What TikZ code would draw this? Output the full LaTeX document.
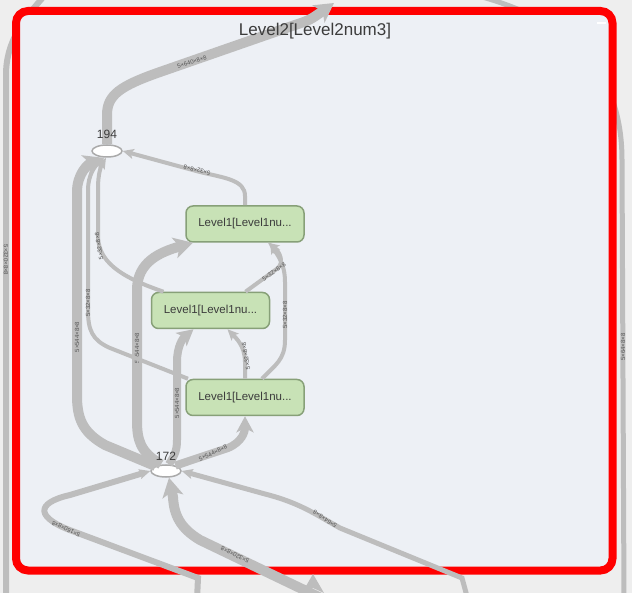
\documentclass[tikz,border=0pt]{standalone}
\usepackage{fontspec}
\setmainfont{Liberation Sans}
\usetikzlibrary{arrows.meta,shapes.geometric,calc}
\definecolor{bgout}{RGB}{238,238,238}
\definecolor{boxfill}{RGB}{237,240,245}
\definecolor{boxred}{RGB}{255,0,0}
\definecolor{edgec}{RGB}{189,189,189}
\definecolor{labc}{RGB}{85,85,85}
\definecolor{nodefill}{RGB}{200,226,182}
\definecolor{nodeline}{RGB}{135,160,120}
\definecolor{txt}{RGB}{60,60,60}
\definecolor{ellline}{RGB}{170,170,170}
\begin{document}
\begin{tikzpicture}[x=1pt,y=-1pt,
  conn/.style={draw=edgec, line width=#1},
  conn/.default=4pt,
  thinar/.style={-{Stealth[length=11pt,width=10pt,inset=2.5pt]}},
  midar/.style={-{Stealth[length=16pt,width=17pt,inset=4pt]}},
  bigar/.style={-{Stealth[length=19pt,width=21pt,inset=5pt]}},
  lab/.style={font=\fontsize{6}{7}\selectfont, text=labc, inner sep=0pt},
  lvl/.style={draw=nodeline, line width=1.5pt, fill=nodefill, rounded corners=7pt,
    minimum width=118pt, minimum height=36pt, inner sep=0pt, text=txt,
    font=\fontsize{11.5}{13}\selectfont},
  ell/.style={ellipse, draw=ellline, line width=1.5pt, fill=white,
    minimum width=30pt, minimum height=12pt, inner sep=0pt},
  num/.style={text=txt, font=\fontsize{12}{14}\selectfont, inner sep=0pt}
]
\useasboundingbox (0,0) rectangle (632,593);
\clip (0,0) rectangle (632,593);
\fill[bgout] (0,0) rectangle (632,593);

% outer lines behind the group box
\draw[conn=6pt] (6,600) -- (6,75) .. controls (6,40) and (25,18) .. (45,-5);
\draw[conn=5pt] (475,-5) .. controls (570,20) and (622,70) .. (622,160) -- (624,600);
\node[lab, rotate=-90] (l15) at (6,260) {5×320×8×8};
\node[lab, rotate=90] (l16) at (623,347) {5×64×8×8};

% group box
\draw[boxred, line width=8pt, fill=boxfill, rounded corners=12pt] (16,11) rectangle (612.5,570.5);
\draw[white, line width=2pt] (597,23) -- (606,23);

% nodes
\node[lvl] (A) at (245,224) {Level1[Level1nu...};
\node[lvl] (B) at (210.5,310.5) {Level1[Level1nu...};
\node[lvl] (C) at (245,397.5) {Level1[Level1nu...};
\node[ell] (n194) at (107,151) {};
\node[ell] (n172) at (166,471) {};
\coordinate (top) at (334,3);

% connectors
\draw[conn=10pt, bigar] (n194.north) -- (107,115) .. controls (107,95) and (120,86) .. (160,72) -- (295,25) .. controls (310,20) .. (top);
\draw[conn, thinar] (A.north) -- (245,196) .. controls (245,180) and (225,178) .. (200,172) -- (n194.east);
\draw[conn, thinar] ([xshift=-47pt]B.north) .. controls (130,280) and (98,266) .. (98,236) -- (98,188) .. controls (98,174) and (101,166) .. ([xshift=-1pt]n194.south);
\draw[conn=10pt, bigar] ([xshift=-5pt]n172.north) .. controls (140,452) and (137,440) .. (137,420) -- (137,290) .. controls (137,262) and (160,252) .. ([xshift=-52pt]A.south);
\node[lab, rotate=90] (l6) at (137,348) {5×544×8×8};
\draw[conn, thinar] ([xshift=-57pt]C.north) -- (110,348) .. controls (92,340) and (88,330) .. (88,310) -- (88,190) .. controls (88,175) and (95,166) .. ([xshift=-3pt]n194.south);
\draw[conn=10pt, bigar] (n172.155) -- (105,445) .. controls (82,432) and (77,418) .. (77,395) -- (77,192) .. controls (77,174) and (88,164) .. ([xshift=-4pt]n194.south);
\draw[conn=8pt, midar] ([xshift=3pt]n172.north) .. controls (175,455) and (177,450) .. (177,440) -- (177,362) .. controls (177,346) and (183,338) .. ([xshift=-17pt]B.south);
\draw[conn=8pt, midar] (n172.30) -- (228,448) .. controls (242,442) and (245,432) .. (C.south);
\draw[conn, thinar] (C.north) -- (245,362) .. controls (245,346) and (236,338) .. ([xshift=17pt]B.south);
\draw[conn, thinar] ([xshift=17pt]C.north) .. controls (275,365) and (285,360) .. (285,340) -- (285,282) .. controls (285,264) and (278,256) .. ([xshift=25pt]A.south);
\draw[conn, thinar] ([xshift=35pt]B.north) -- (278,268) .. controls (284,262) and (280,252) .. ([xshift=23pt]A.south);
\draw[conn=6pt, thinar] (197,600) -- (198,578) -- (75,532) .. controls (35,518) and (35,503) .. (70,495) -- (n172.west);
\draw[conn=10pt, bigar] (325,600) -- (200,540) .. controls (180,528) and (174,515) .. (173,497) -- ([xshift=3pt]n172.south);
\fill[edgec] (313,574) -- (324,593) -- (313,588) -- (302,593) -- cycle;
\draw[conn=5pt, thinar] (468,600) -- (462,578) -- (340,528) .. controls (315,514) and (300,503) .. (265,494) -- (n172.east);

% title on top of the connectors
\node[text=txt, font=\fontsize{17}{20}\selectfont, inner sep=0pt] (title) at (315,31) {Level2[Level2num3]};

% connector labels
\node[lab, rotate=19] (l1) at (192,62) {5×640×8×8};
\node[lab, rotate=167] (l2) at (197,170) {5×32×8×8};
\node[lab, rotate=100] (l3) at (99,246) {5×32×8×8};
\node[lab, rotate=90] (l4) at (88,303) {5×32×8×8};
\node[lab, rotate=90] (l5) at (77,337) {5×544×8×8};
\node[lab, rotate=90] (l7) at (177,403) {5×544×8×8};
\node[lab, rotate=25] (l8) at (213,453) {5×544×8×8};
\node[lab, rotate=100] (l9) at (246,356) {5×32×8×8};
\node[lab, rotate=90] (l10) at (285,315) {5×32×8×8};
\node[lab, rotate=36] (l11) at (274,272) {5×32×8×8};
\node[lab, rotate=155] (l12) at (66,529) {5×160×8×8};
\node[lab, rotate=154] (l13) at (235,555) {5×320×8×8};
\node[lab, rotate=146] (l14) at (325,519) {5×64×8×8};

% node numbers
\node[num] (t194) at (107,134) {194};
\node[num] (t172) at (166,456) {172};
\end{tikzpicture}
\end{document}
